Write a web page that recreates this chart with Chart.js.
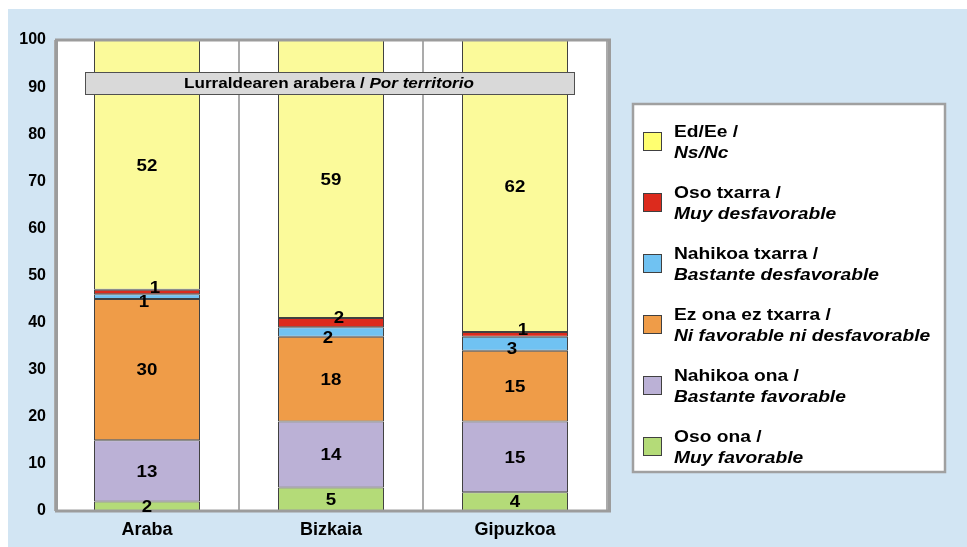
<!DOCTYPE html>
<html>
<head>
<meta charset="utf-8">
<script src="https://cdn.jsdelivr.net/npm/chart.js@4.4.1/dist/chart.umd.min.js"></script>
<style>
  html, body { margin: 0; padding: 0; background: #fff; }
  #wrap { width: 967px; height: 547px; }
</style>
</head>
<body>
<div id="wrap"><canvas id="chart" width="967" height="547"></canvas></div>
<script>
// ── Data ─────────────────────────────────────────────────────
const territories = ['Araba', 'Bizkaia', 'Gipuzkoa'];
const yTicks = [0, 10, 20, 30, 40, 50, 60, 70, 80, 90, 100];

const osoOna = [2, 5, 4];
const nahikoaOna = [13, 14, 15];
const ezOnaEzTxarra = [30, 18, 15];
const nahikoaTxarra = [1, 2, 3];
const osoTxarra = [1, 2, 1];
// Araba's Ns/Nc bar reaches 100 in the original but is printed as 52
const nsNc = [53, 59, 62];
const nsNcPrinted = [52, 59, 62];

const FONT = "'Liberation Sans', Arial, sans-serif";

const datasets = [
  { label: ['Oso ona /', 'Muy favorable'], data: osoOna, backgroundColor: '#b4db78' },
  { label: ['Nahikoa ona /', 'Bastante favorable'], data: nahikoaOna, backgroundColor: '#bbb1d6' },
  { label: ['Ez ona ez txarra /', 'Ni favorable ni desfavorable'], data: ezOnaEzTxarra, backgroundColor: '#ef9c48' },
  { label: ['Nahikoa txarra /', 'Bastante desfavorable'], data: nahikoaTxarra, backgroundColor: '#70c2f2', labelShift: [-3, 5] },
  { label: ['Oso txarra /', 'Muy desfavorable'], data: osoTxarra, backgroundColor: '#dc2b1d', labelShift: [8, -5] },
  { label: ['Ed/Ee /', 'Ns/Nc'], data: nsNc, printed: nsNcPrinted, backgroundColor: '#fbfa9a', swatch: '#ffff70' },
].map(ds => ({
  borderColor: '#404040',
  borderWidth: 1,
  borderSkipped: false,
  categoryPercentage: 1,
  barPercentage: 0.576,
  ...ds,
}));

// ── Helpers ──────────────────────────────────────────────────

// the original's lettering is a bit wider than Liberation Sans
function wideText(ctx, txt, x, y, sx) {
  ctx.save();
  ctx.translate(x, y);
  ctx.scale(sx, 1);
  ctx.fillText(txt, 0, 0);
  ctx.restore();
}

// ── Plugins ──────────────────────────────────────────────────

const backdrop = {
  id: 'backdrop',
  beforeDraw(chart) {
    const { ctx, chartArea: a } = chart;
    ctx.save();
    ctx.fillStyle = '#ffffff';
    ctx.fillRect(0, 0, chart.width, chart.height);
    ctx.fillStyle = '#d2e5f3';
    ctx.fillRect(8, 9, chart.width - 8, chart.height - 9);
    ctx.fillStyle = '#ffffff';
    ctx.fillRect(a.left, a.top, a.right - a.left, a.bottom - a.top);
    ctx.restore();
  },
};

const overlay = {
  id: 'overlay',
  afterDatasetsDraw(chart) {
    const { ctx, chartArea: a } = chart;
    ctx.save();

    // plot frame
    ctx.strokeStyle = '#9c9c9c';
    ctx.lineWidth = 3;
    ctx.strokeRect(a.left + 1.5, a.top, a.right - a.left + 1, a.bottom - a.top);

    // value labels
    ctx.fillStyle = '#000';
    ctx.font = `bold 17px ${FONT}`;
    ctx.textAlign = 'center';
    ctx.textBaseline = 'middle';
    chart.data.datasets.forEach((ds, di) => {
      const meta = chart.getDatasetMeta(di);
      const [dx, dy] = ds.labelShift ?? [0, 0];
      meta.data.forEach((el, i) => {
        const txt = String((ds.printed ?? ds.data)[i]);
        wideText(ctx, txt, el.x + dx, (el.y + el.base) / 2 + dy + 1, 1.1);
      });
    });

    // banner
    ctx.fillStyle = '#d9d9d9';
    ctx.fillRect(85, 72, 490, 23);
    ctx.strokeStyle = '#505050';
    ctx.lineWidth = 1;
    ctx.strokeRect(85.5, 72.5, 489, 22);
    const sx = 1.14;
    const partA = 'Lurraldearen arabera / ';
    const partB = 'Por territorio';
    ctx.font = `bold 15px ${FONT}`;
    const wA = ctx.measureText(partA).width * sx;
    ctx.font = `italic bold 15px ${FONT}`;
    const wB = ctx.measureText(partB).width * sx;
    const x = 329 - (wA + wB) / 2;
    ctx.textAlign = 'left';
    ctx.fillStyle = '#000';
    ctx.font = `bold 15px ${FONT}`;
    wideText(ctx, partA, x, 84, sx);
    ctx.font = `italic bold 15px ${FONT}`;
    wideText(ctx, partB, x + wA, 84, sx);

    ctx.restore();
  },
};

const boxLegend = {
  id: 'boxLegend',
  afterDraw(chart) {
    const { ctx } = chart;
    ctx.save();
    ctx.fillStyle = '#ffffff';
    ctx.fillRect(633, 104, 312, 368);
    ctx.strokeStyle = '#a0a0a0';
    ctx.lineWidth = 2.5;
    ctx.strokeRect(633, 104, 312, 368);

    const items = chart.data.datasets.slice().reverse();
    items.forEach((ds, i) => {
      const cy = 141 + i * 61;
      ctx.fillStyle = ds.swatch ?? ds.backgroundColor;
      ctx.fillRect(643, cy - 9, 19, 19);
      ctx.strokeStyle = '#404040';
      ctx.lineWidth = 1;
      ctx.strokeRect(643.5, cy - 8.5, 18, 18);

      ctx.fillStyle = '#000';
      ctx.textAlign = 'left';
      ctx.textBaseline = 'middle';
      ctx.font = `bold 17px ${FONT}`;
      wideText(ctx, ds.label[0], 674, cy - 9, 1.13);
      ctx.font = `italic bold 17px ${FONT}`;
      wideText(ctx, ds.label[1], 674, cy + 12, 1.13);
    });
    ctx.restore();
  },
};

// ── Chart ────────────────────────────────────────────────────

new Chart(document.getElementById('chart'), {
  type: 'bar',
  data: { labels: territories, datasets },
  plugins: [backdrop, overlay, boxLegend],
  options: {
    responsive: false,
    animation: false,
    devicePixelRatio: 1,
    layout: { padding: { top: 40, right: 360, bottom: 0, left: 0 } },
    plugins: { legend: { display: false }, tooltip: { enabled: false } },
    scales: {
      x: {
        stacked: true,
        grid: { offset: true, color: '#ababab', lineWidth: 2, drawTicks: false },
        border: { display: false },
        ticks: { color: '#000', font: { family: FONT, size: 18, weight: 'bold' }, padding: 8 },
        afterFit(scale) { scale.height = 36; },
      },
      y: {
        stacked: true,
        min: 0,
        max: 100,
        grid: { display: false, drawTicks: false },
        border: { display: false },
        ticks: { color: '#000', font: { family: FONT, size: 16, weight: 'bold' }, padding: 9 },
        afterBuildTicks(scale) { scale.ticks = yTicks.map(v => ({ value: v })); },
        afterFit(scale) { scale.width = 55; },
      },
    },
  },
});
</script>
</body>
</html>
